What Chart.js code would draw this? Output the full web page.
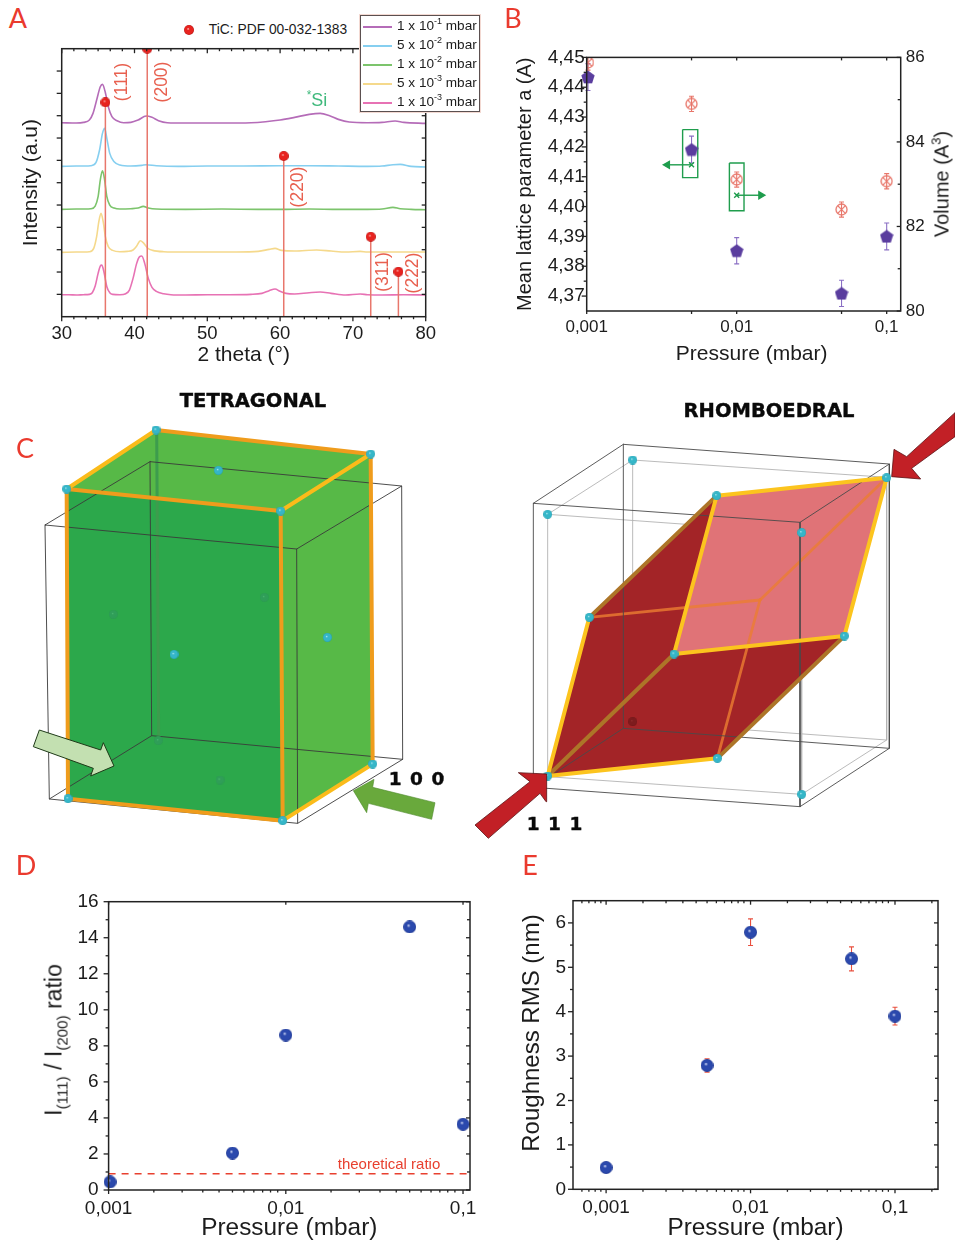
<!DOCTYPE html>
<html>
<head>
<meta charset="utf-8">
<title>TiC figure</title>
<script src="https://cdn.jsdelivr.net/npm/chart.js@4/dist/chart.umd.min.js"></script>
<style>
  html, body { margin: 0; padding: 0; background: #fff; }
  #page { position: relative; width: 955px; height: 1246px; overflow: hidden; font-family: "Liberation Sans", Arial, sans-serif; color: #1c1c1c; }
  #page canvas { position: absolute; }
  .txt { position: absolute; white-space: nowrap; transform-origin: center; }
  .letter { font-family: Lato, sans-serif; color: #ea3a2e; font-size: 27px; }
  .head { font-family: "DejaVu Sans", sans-serif; font-weight: bold; color: #0a0a0a; -webkit-text-stroke: 0.4px #0a0a0a; }
  .hkl { color: #e8604f; }
  sup, sub { font-size: 66%; line-height: 0; }
  #legendA { position: absolute; left: 360px; top: 15px; width: 118px; height: 95px; background: #fff; border: 1px solid #5b5050; box-shadow: 0 0 0 1px #f3d9d2; }
  #legendA div { position: absolute; left: 36px; font-size: 13.6px; white-space: nowrap; }
  #legendA i { position: absolute; left: 2px; width: 29px; height: 2px; }
</style>
</head>
<body>
<div id="page"></div>
<script>
// ---- panel A : XRD traces, [2 theta, intensity a.u.] ----
const trace1e3 = [[30,66],[31,66],[32,65],[33,66],[33.8,67],[34.2,72],[34.6,92],[35,130],[35.3,152],[35.5,155],[35.8,135],[36.2,90],[36.6,72],[37,67],[38,66],[38.8,69],[39.3,80],[39.8,115],[40.3,160],[40.7,180],[41,182],[41.4,160],[41.9,115],[42.4,88],[43,76],[44,69],[45,66],[47,65],[50,66],[53,66],[56,67],[57.5,70],[58.5,78],[59.3,83],[60,76],[60.8,70],[62,68],[64,72],[65.5,74],[67,70],[69,65],[71,68],[72,66],[74,65],[77,66],[80,65]];
const trace5e3 = [[30,193],[32,194],[33.8,195],[34.4,205],[34.8,240],[35.1,285],[35.4,310],[35.7,285],[36,240],[36.4,210],[37,199],[38,195],[39,196],[39.8,200],[40.3,212],[40.8,228],[41.2,222],[41.8,206],[42.5,199],[44,195],[47,194],[50,194],[54,194],[57,196],[58.5,202],[59.3,205],[60.2,199],[62,197],[65,200],[67,197],[69,194],[71,196],[72,194],[75,194],[80,194]];
const trace1e2 = [[30,322],[32,323],[34,324],[34.6,332],[35,360],[35.3,410],[35.6,438],[35.9,410],[36.2,360],[36.6,335],[37.2,326],[38,323],[39.5,324],[40.5,326],[41.2,331],[41.9,326],[43,323],[47,322],[52,323],[57,322],[60,322],[64,323],[68,322],[72,322],[74,323],[75.5,328],[76.5,324],[78,322],[80,321]];
const trace5e2 = [[30,451],[32,452],[34,453],[34.7,462],[35.2,500],[35.6,550],[35.9,565],[36.2,535],[36.6,490],[37.2,465],[38,455],[39.5,452],[41,454],[41.6,456],[43,453],[46,451],[50,452],[55,452],[60,453],[64,453],[68,452],[72,451],[74,452],[75.5,456],[76.5,457],[78,451],[80,449]];
const trace1e1 = [[30,582],[32,581],[33,583],[33.8,590],[34.3,610],[34.8,650],[35.3,690],[35.6,697],[36,672],[36.4,630],[36.9,600],[37.6,588],[38.5,582],[39.5,583],[40.5,590],[41.6,602],[42.4,598],[43.3,588],[44.5,582],[47,581],[52,581],[56,582],[58,585],[60,590],[62,598],[64,607],[65.5,610],[66.8,603],[68,592],[69.5,584],[72,582],[74,583],[75.8,587],[77,583],[80,580]];
const traceColors = ['#b56cb8','#86cff0','#7cc46c','#f5d98c','#e772b4'];
const pressureLabels = ['1 x 10<sup>-1</sup> mbar','5 x 10<sup>-2</sup> mbar','1 x 10<sup>-2</sup> mbar','5 x 10<sup>-3</sup> mbar','1 x 10<sup>-3</sup> mbar'];
const ticThetas = [36, 41.75, 60.5, 72.45, 76.25];
const ticHeights = [643, 804, 482, 240, 135];
const ticNames = ['(111)','(200)','(220)','(311)','(222)'];

// ---- panels B, D, E share the pressures ----
const pressures = [0.00102, 0.005, 0.01, 0.05, 0.1];
const latticeA = [4.4434, 4.4191, 4.3852, 4.3709, 4.39];
const latticeErr = [0.0045, 0.0045, 0.0044, 0.0044, 0.0045];
const volume = [85.88, 84.9, 83.11, 82.4, 83.07];
const volumeErr = [0.18, 0.18, 0.18, 0.18, 0.18];
const ratioPressures = [0.00102, 0.005, 0.01, 0.05, 0.1];
const ratioValues = [0.45, 2.05, 8.6, 14.6, 3.65];
const theoreticalRatio = 0.9;
const roughPressures = [0.001, 0.005, 0.01, 0.05, 0.1];
const roughness = [0.49, 2.79, 5.79, 5.19, 3.9];
const roughErr = [0.1, 0.15, 0.3, 0.27, 0.2];

// tick positions
const thetaMajor = [30,40,50,60,70,80];
const thetaMinor = [31.67,33.33,35,36.67,38.33,41.67,43.33,45,46.67,48.33,51.67,53.33,55,56.67,58.33,61.67,63.33,65,66.67,68.33,71.67,73.33,75,76.67,78.33];
const intensityMajor = [67,201,335,469,603,737];
const intensityMinor = [134,268,402,536,670];
const pressureMajor = [0.001, 0.01, 0.1];
const pressureB = [0.001, 0.005, 0.01, 0.05, 0.1];
const pressureMinor = [0.00068,0.00076,0.00084,0.00092,0.0018,0.0026,0.0034,0.0042,0.005,0.0058,0.0066,0.0074,0.0082,0.009,0.018,0.026,0.034,0.042,0.05,0.058,0.066,0.074,0.082,0.09,0.18];
const latticeTicks = [4.37,4.38,4.39,4.40,4.41,4.42,4.43,4.44,4.45];
const latticeMinor = [4.375,4.385,4.395,4.405,4.415,4.425,4.435,4.445];
const volumeTicks = [80,82,84,86];
const volumeMinor = [81,83,85];
const ratioTicks = [0,2,4,6,8,10,12,14,16];
const ratioMinor = [1,3,5,7,9,11,13,15];
const roughTicks = [0,1,2,3,4,5,6];
const roughMinor = [0.5,1.5,2.5,3.5,4.5,5.5];

// ---- panel C, axes are hidden and run 3 units per page pixel ----
const tetraFront = [[200,327],[842,393],[848,1322],[204,1256]];
const tetraRight = [[842,393],[1112,222],[1118,1152],[848,1322]];
const tetraTop = [[200,327],[468,150],[1112,222],[842,393]];
const tetraBoxFront = [[135,435],[890,507],[893,1330],[148,1257]];
const tetraBoxBack = [[450,245],[1205,318],[1208,1138],[455,1067]];
const tetraGold = [[[200,327],[468,150]],[[842,393],[1112,222]],[[848,1322],[1118,1152]]];
const tetraOrange = [[[468,150],[1112,222]],[[200,327],[842,393]],[[200,327],[204,1256]],[[842,393],[848,1322]],[[1112,222],[1118,1152]],[[204,1256],[848,1322]]];
const tetraCyan = [[200,327],[468,150],[1112,222],[842,393],[204,1256],[848,1322],[1118,1152],[655,271],[522,823],[982,772]];
const tetraGreen = [[340,703],[793,652],[660,1200],[475,1082]];
const paleArrow = [[118,1050],[302,1110],[310,1088],[342,1158],[272,1188],[280,1165],[100,1100]];
const solidArrow = [[1060,1232],[1122,1198],[1118,1222],[1305,1268],[1295,1318],[1105,1270],[1100,1298]];

const rhombOuterFront = [[190,370],[990,427],[990,1280],[190,1222]];
const rhombOuterBack = [[460,193],[1258,252],[1258,1105],[460,1045]];
const rhombInnerFront = [[233,403],[995,458],[995,1243],[233,1190]];
const rhombInnerBack = [[488,240],[1250,292],[1250,1080],[488,1025]];
const rhombHull = [[233,1188],[358,712],[740,347],[1250,293],[1123,768],[742,1135]];
const rhombPink = [[740,347],[1250,293],[1123,768],[612,822]];
const rhombGold = [[[233,1188],[358,712]],[[740,347],[1250,293]],[[1250,293],[1123,768]],[[740,347],[612,822]],[[612,822],[1123,768]],[[233,1188],[742,1135]]];
const rhombBrown = [[[358,712],[740,347]],[[612,822],[233,1188]],[[1123,768],[742,1135]]];
const rhombHidden = [[[358,712],[870,660]],[[870,660],[1250,293]],[[870,660],[742,1135]]];
const rhombCyan = [[233,1188],[1250,293],[740,347],[612,822],[1123,768],[358,712],[742,1135],[488,240],[233,403],[995,458],[995,1243]];
const rhombDark = [[488,1025]];
const redArrowTop = [[1455,98],[1310,230],[1272,208],[1265,290],[1352,297],[1325,265],[1455,170]];
const redArrowBottom = [[230,1182],[145,1178],[180,1205],[15,1335],[55,1375],[210,1240],[228,1265]];

const page = document.getElementById('page');
const INK = '#1c1c1c';
const SANS = '"Liberation Sans", Arial, sans-serif';

function addCanvas(l, t, w, h) {
  const c = document.createElement('canvas');
  c.width = w; c.height = h;
  c.style.left = l + 'px'; c.style.top = t + 'px';
  c.style.width = w + 'px'; c.style.height = h + 'px';
  page.appendChild(c);
  return c;
}
function addText(html, x, y, cls, size, rot) {
  const d = document.createElement('div');
  d.className = 'txt ' + (cls || '');
  d.innerHTML = html;
  d.style.left = x + 'px'; d.style.top = y + 'px';
  if (size) d.style.fontSize = size + 'px';
  d.style.transform = 'translate(-50%,-50%)' + (rot ? ' rotate(' + rot + 'deg)' : '');
  page.appendChild(d);
  return d;
}

// shiny marker, used as pointStyle
function ball(d, base, dark, shine) {
  const c = document.createElement('canvas');
  c.width = c.height = d;
  const g = c.getContext('2d');
  const r = d / 2;
  const grad = g.createRadialGradient(r * 0.8, r * 0.75, 0, r, r, r);
  grad.addColorStop(0, shine || '#fff');
  grad.addColorStop(0.28, base);
  grad.addColorStop(0.8, base);
  grad.addColorStop(1, dark);
  g.fillStyle = grad;
  g.beginPath(); g.arc(r, r, r, 0, Math.PI * 2); g.fill();
  return c;
}
function pentagon(d, col) {
  const c = document.createElement('canvas');
  c.width = c.height = d;
  const g = c.getContext('2d');
  g.fillStyle = col;
  g.beginPath();
  for (let i = 0; i < 5; i++) {
    const a = -Math.PI / 2 + i * 2 * Math.PI / 5;
    g.lineTo(d / 2 + Math.cos(a) * d / 2, d / 2 + 0.5 + Math.sin(a) * d / 2);
  }
  g.closePath(); g.fill();
  return c;
}
function crossedCircle(d, col) {
  const c = document.createElement('canvas');
  c.width = c.height = d;
  const g = c.getContext('2d');
  const r = d / 2 - 1, m = d / 2, k = r * 0.7;
  g.strokeStyle = col; g.lineWidth = 1.3;
  g.beginPath(); g.arc(m, m, r, 0, Math.PI * 2); g.stroke();
  g.beginPath();
  g.moveTo(m - k, m - k); g.lineTo(m + k, m + k);
  g.moveTo(m + k, m - k); g.lineTo(m - k, m + k);
  g.stroke();
  return c;
}

// frame + short ticks on all four sides
const frameTicks = {
  id: 'frameTicks',
  afterDraw(chart, args, opts) {
    if (!opts.sides) return;
    const a = chart.chartArea, g = chart.ctx;
    g.save();
    g.strokeStyle = opts.color || '#222';
    g.lineWidth = opts.lineWidth || 1.5;
    g.strokeRect(a.left, a.top, a.right - a.left, a.bottom - a.top);
    g.lineWidth = 1.3;
    opts.sides.forEach(s => {
      const scale = chart.scales[s.scale];
      const mark = (v, len) => {
        const p = scale.getPixelForValue(v);
        g.beginPath();
        if (s.at === 'bottom') { g.moveTo(p, a.bottom); g.lineTo(p, a.bottom + (s.dir === 'out' ? len : -len)); }
        if (s.at === 'top') { g.moveTo(p, a.top); g.lineTo(p, a.top + (s.dir === 'out' ? -len : len)); }
        if (s.at === 'left') { g.moveTo(a.left, p); g.lineTo(a.left + (s.dir === 'out' ? -len : len), p); }
        if (s.at === 'right') { g.moveTo(a.right, p); g.lineTo(a.right + (s.dir === 'out' ? len : -len), p); }
        g.stroke();
      };
      (s.major || []).forEach(v => mark(v, s.maj));
      (s.minor || []).forEach(v => mark(v, s.min));
    });
    g.restore();
  }
};
// whiskers, drawn under the markers
const errorBars = {
  id: 'errorBars',
  beforeDatasetsDraw(chart) {
    const a = chart.chartArea, g = chart.ctx;
    g.save();
    g.beginPath(); g.rect(a.left - 6, a.top, a.right - a.left + 12, a.bottom - a.top); g.clip();
    chart.data.datasets.forEach(ds => {
      if (!ds.errors) return;
      const sx = chart.scales.x, sy = chart.scales[ds.yAxisID || 'y'];
      g.strokeStyle = ds.errorColor; g.lineWidth = 1.1;
      ds.data.forEach((p, i) => {
        const x = sx.getPixelForValue(p.x);
        const lo = sy.getPixelForValue(p.y - ds.errors[i]);
        const hi = sy.getPixelForValue(p.y + ds.errors[i]);
        g.beginPath();
        g.moveTo(x, lo); g.lineTo(x, hi);
        g.moveTo(x - 2.5, lo); g.lineTo(x + 2.5, lo);
        g.moveTo(x - 2.5, hi); g.lineTo(x + 2.5, hi);
        g.stroke();
      });
    });
    g.restore();
  }
};

const pts = (xs, ys) => xs.map((x, i) => ({ x, y: ys[i] }));
const pairs = arr => arr.map(([x, y]) => ({ x, y }));
const comma = v => String(v).replace('.', ',');
const setTicks = vals => s => { s.ticks = vals.map(value => ({ value })); };
// tick labels must not push the plot area around
const noScalePadding = s => { s.paddingTop = s.paddingBottom = s.paddingLeft = s.paddingRight = 0; };

function xAxis(opt) {
  return {
    type: opt.type || 'linear', min: opt.min, max: opt.max, position: 'bottom',
    grid: { display: false, drawTicks: false }, border: { display: false },
    afterBuildTicks: setTicks(opt.ticks),
    afterFit(s) { s.height = opt.height; noScalePadding(s); },
    ticks: { autoSkip: false, maxRotation: 0, padding: opt.pad, color: INK, font: { family: SANS, size: opt.size }, callback: v => comma(v) },
    title: opt.title ? { display: true, text: opt.title, color: INK, font: { family: SANS, size: opt.titleSize }, padding: { top: 0, bottom: opt.titlePad } } : { display: false }
  };
}
function yAxis(opt) {
  return {
    type: 'linear', min: opt.min, max: opt.max, position: opt.position || 'left',
    grid: { display: false, drawTicks: false }, border: { display: false },
    afterBuildTicks: setTicks(opt.ticks),
    afterFit(s) { s.width = opt.width; noScalePadding(s); },
    ticks: { display: !opt.noLabels, autoSkip: false, padding: opt.pad, color: INK, font: { family: SANS, size: opt.size }, callback: v => comma(opt.digits ? v.toFixed(opt.digits) : v) },
    title: opt.title ? { display: true, text: opt.title, color: INK, font: { family: SANS, size: opt.titleSize }, padding: { top: opt.titlePad, bottom: 0 } } : { display: false }
  };
}
function baseOptions(padding, scales, sides) {
  return {
    responsive: false, animation: false, events: [],
    layout: { autoPadding: false, padding },
    scales,
    plugins: { legend: { display: false }, tooltip: { enabled: false }, frameTicks: { sides: sides || null } }
  };
}

// ---------- A ----------
const redBall = ball(10, '#e8231f', '#b31412', '#ffd2cc');
const datasetsA = [];
ticThetas.forEach((t, i) => {
  datasetsA.push({
    data: [{ x: t, y: 0 }, { x: t, y: ticHeights[i] }], showLine: true,
    borderColor: '#e8776c', borderWidth: 1.5, pointStyle: redBall, pointRadius: [0, 5]
  });
});
[trace1e1, trace5e2, trace1e2, trace5e3, trace1e3].forEach((tr, i) => {
  datasetsA.push({ data: pairs(tr), showLine: true, borderColor: traceColors[i], borderWidth: 1.6, pointRadius: 0, cubicInterpolationMode: 'monotone' });
});
new Chart(addCanvas(0, 40, 440, 330), {
  type: 'scatter',
  data: { datasets: datasetsA },
  options: baseOptions({ left: 0, top: 8.7, right: 14.3, bottom: 0 }, {
    x: xAxis({ min: 30, max: 80, ticks: thetaMajor, height: 53.3, pad: 6, size: 18.5, title: '2 theta (°)', titleSize: 21, titlePad: 2 }),
    y: yAxis({ min: 0, max: 804, ticks: intensityMajor, width: 61.7, noLabels: true, title: 'Intensity (a.u)', titleSize: 21, titlePad: 19 })
  }, [
    { scale: 'x', at: 'bottom', dir: 'out', major: thetaMajor, minor: thetaMinor, maj: 4.5, min: 2.5 },
    { scale: 'x', at: 'top', dir: 'in', major: thetaMajor, minor: thetaMinor, maj: 4.5, min: 2.5 },
    { scale: 'y', at: 'left', dir: 'out', major: intensityMajor, minor: intensityMinor, maj: 5, min: 5 },
    { scale: 'y', at: 'right', dir: 'in', major: intensityMajor, minor: intensityMinor, maj: 4, min: 4 }
  ]),
  plugins: [frameTicks]
});
const hklSpots = [[121, 82], [161, 82], [297, 187], [382, 272], [412, 273]];
ticNames.forEach((n, i) => addText(n, hklSpots[i][0], hklSpots[i][1], 'hkl', 17.5, -90));
addText('<sup>*</sup>Si', 317, 100, '', 18).style.color = '#3fb97c';
addText('TiC: PDF 00-032-1383', 278, 29, '', 13.8);
const legendBall = ball(10, '#e8231f', '#b31412', '#ffd2cc');
legendBall.style.left = '184px'; legendBall.style.top = '25px';
page.appendChild(legendBall);
const legendA = document.createElement('div');
legendA.id = 'legendA';
pressureLabels.forEach((lab, i) => {
  const row = 5 + i * 19;
  legendA.innerHTML += '<i style="top:' + (row + 5) + 'px;background:' + traceColors[i] + '"></i><div style="top:' + (row - 3) + 'px">' + lab + '</div>';
});
page.appendChild(legendA);

// ---------- B ----------
const purple = '#5a3d9e';
const salmon = '#e8766a';
const boxGreen = '#1f9d4d';
const greenLine = (xs, ys, extra) => Object.assign({ data: pts(xs, ys), showLine: true, borderColor: boxGreen, borderWidth: 1.4, pointRadius: 0, clip: false }, extra || {});
new Chart(addCanvas(490, 40, 465, 330), {
  type: 'scatter',
  data: {
    datasets: [
      { data: pts(pressures, latticeA), yAxisID: 'y', pointStyle: pentagon(14, purple), pointRadius: 7, errors: latticeErr, errorColor: '#8a6fc4', clip: false },
      { data: pts(pressures, volume), yAxisID: 'y2', pointStyle: crossedCircle(13, salmon), pointRadius: 6, errors: volumeErr, errorColor: salmon },
      greenLine([0.00436, 0.0055, 0.0055, 0.00436, 0.00436], [4.4258, 4.4258, 4.4097, 4.4097, 4.4258]),
      greenLine([0.00894, 0.01119, 0.01119, 0.00894, 0.00894], [4.4146, 4.4146, 4.3986, 4.3986, 4.4146]),
      greenLine([0.005, 0.00345], [4.414, 4.414], { pointStyle: 'triangle', pointRotation: -90, pointRadius: [0, 4], backgroundColor: boxGreen, borderColor: boxGreen }),
      greenLine([0.01, 0.0145], [4.4038, 4.4038], { pointStyle: 'triangle', pointRotation: 90, pointRadius: [0, 4], backgroundColor: boxGreen, borderColor: boxGreen }),
      greenLine([0.005, 0.01], [4.414, 4.4038], { showLine: false, pointStyle: 'crossRot', pointRadius: 3.5, pointBorderColor: boxGreen, pointBorderWidth: 1.4 })
    ]
  },
  options: baseOptions({ left: 0, top: 17.4, right: 0, bottom: 0 }, {
    x: xAxis({ type: 'logarithmic', min: 0.001, max: 0.124, ticks: pressureMajor, height: 59, pad: 6, size: 17 }),
    y: yAxis({ min: 4.365, max: 4.45, ticks: latticeTicks, digits: 2, width: 96.7, pad: 2, size: 19, title: 'Mean lattice parameter a (A)', titleSize: 20, titlePad: 23 }),
    y2: yAxis({ min: 80, max: 86, ticks: volumeTicks, position: 'right', width: 54.3, pad: 5, size: 17 })
  }, [
    { scale: 'x', at: 'bottom', dir: 'out', major: pressureB, maj: 3 },
    { scale: 'x', at: 'top', dir: 'in', major: pressureB, maj: 3 },
    { scale: 'y', at: 'left', dir: 'out', major: latticeTicks, minor: latticeMinor, maj: 5, min: 3 },
    { scale: 'y2', at: 'right', dir: 'in', major: volumeTicks, minor: volumeMinor, maj: 4, min: 3 }
  ]),
  plugins: [frameTicks, errorBars]
});
addText('Pressure (mbar)', 751.7, 353, '', 21);
addText('Volume (A<sup>3</sup>)', 942, 184, '', 20, -90);

// ---------- C, crystal cells ----------
const poly = (p, fill, stroke, w) => ({
  data: pairs(p.concat([p[0]])), showLine: true, fill: 'shape', backgroundColor: fill,
  borderColor: stroke || 'rgba(0,0,0,0)', borderWidth: w || 0, pointRadius: 0, clip: false
});
const seg = (p, col, w) => ({ data: pairs(p), showLine: true, borderColor: col, borderWidth: w, borderCapStyle: 'round', pointRadius: 0, clip: false });
const dots = (p, style) => ({ data: pairs(p), pointStyle: style, pointRadius: 4, clip: false });
function wireBox(front, back, col, w) {
  const out = [seg(front.concat([front[0]]), col, w), seg(back.concat([back[0]]), col, w)];
  front.forEach((f, i) => out.push(seg([f, back[i]], col, w)));
  return out;
}
function crystalChart(l, t, w, h, xMax, yMax, paintOrder) {
  // chart.js paints the first dataset last
  const cfgScales = {
    x: { type: 'linear', display: false, min: 0, max: xMax },
    y: { type: 'linear', display: false, min: 0, max: yMax, reverse: true }
  };
  return new Chart(addCanvas(l, t, w, h), {
    type: 'scatter',
    data: { datasets: paintOrder.slice().reverse() },
    options: baseOptions(0, cfgScales),
    plugins: []
  });
}
const cyanBall = ball(9, '#35b6c8', '#27a0b2', '#bff1f7');
const greenDot = ball(9, '#2f9e58', '#2b9a50', '#4db873');
const darkRed = ball(9, '#7d1c1e', '#701718', '#97302f');

const gradCanvas = document.createElement('canvas').getContext('2d');
const paleFill = gradCanvas.createLinearGradient(33, 730, 113, 770);
paleFill.addColorStop(0, '#c3e0b1');
paleFill.addColorStop(0.5, '#a9d394');
paleFill.addColorStop(0.7, '#5ea34a');
paleFill.addColorStop(1, '#4f9a40');

crystalChart(0, 380, 470, 470, 1410, 1410, [
  poly(tetraTop, '#57b947'),
  poly(tetraRight, '#57b947'),
  poly(tetraFront, '#2ca84b'),
  seg([[470, 150], [476, 1075]], '#3d9c4d', 3),
  ...wireBox(tetraBoxFront, tetraBoxBack, '#3a3a3a', 0.9),
  ...tetraOrange.map(e => seg(e, '#ef9c1c', 4)),
  ...tetraGold.map(e => seg(e, '#fbbb1a', 4)),
  dots(tetraGreen, greenDot),
  dots(tetraCyan, cyanBall),
  poly(paleArrow, paleFill, '#1e3a18', 1),
  poly(solidArrow, '#69a93c', '#4e8a2c', 0.6)
]);
addText('TETRAGONAL', 253, 400, 'head', 19.5);
addText('1 0 0', 417, 778, 'head', 18.5).style.letterSpacing = '1px';

crystalChart(470, 380, 485, 470, 1455, 1410, [
  ...wireBox(rhombInnerFront, rhombInnerBack, '#b3b3b3', 0.9),
  poly(rhombHull, '#a32427'),
  poly(rhombPink, '#e07377'),
  ...rhombHidden.map(e => seg(e, 'rgba(235,125,50,0.8)', 2.8)),
  ...wireBox(rhombOuterFront, rhombOuterBack, '#4a4a4a', 0.9),
  ...rhombBrown.map(e => seg(e, '#ad7528', 4)),
  ...rhombGold.map(e => seg(e, '#fcc41e', 4)),
  dots(rhombDark, darkRed),
  dots(rhombCyan, cyanBall),
  poly(redArrowTop, '#c22026', '#5c1214', 0.8),
  poly(redArrowBottom, '#c22026', '#5c1214', 0.8)
]);
addText('RHOMBOEDRAL', 769, 410, 'head', 19.5);
addText('1 1 1', 555, 823, 'head', 18.5).style.letterSpacing = '1px';

// ---------- D ----------
const blueBall = ball(13, '#2b49ad', '#1d3590', '#e6ecff');
new Chart(addCanvas(0, 890, 490, 356), {
  type: 'scatter',
  data: {
    datasets: [
      { data: pts(ratioPressures, ratioValues), pointStyle: blueBall, pointRadius: 6, clip: false },
      { data: pts([0.001, 0.1095], [theoreticalRatio, theoreticalRatio]), showLine: true, borderColor: '#e8402f', borderWidth: 1.6, borderDash: [7, 6], pointRadius: 0 }
    ]
  },
  options: baseOptions({ left: 0, top: 11.7, right: 20, bottom: 0 }, {
    x: xAxis({ type: 'logarithmic', min: 0.001, max: 0.1095, ticks: pressureMajor, height: 56, pad: 7, size: 19, title: 'Pressure (mbar)', titleSize: 24.4, titlePad: 3 }),
    y: yAxis({ min: 0, max: 16, ticks: ratioTicks, width: 108.6, pad: 10, size: 19 })
  }, [
    { scale: 'x', at: 'bottom', dir: 'out', major: pressureMajor, minor: pressureMinor.filter(v => v >= 0.001 && v < 0.1095), maj: 4, min: 2.5 },
    { scale: 'x', at: 'top', dir: 'in', major: pressureMajor, maj: 3 },
    { scale: 'y', at: 'left', dir: 'out', major: ratioTicks, minor: ratioMinor, maj: 5, min: 3 },
    { scale: 'y', at: 'right', dir: 'in', major: ratioTicks, minor: ratioMinor, maj: 4, min: 3 }
  ]),
  plugins: [frameTicks]
});
addText('I<sub>(111)</sub> / I<sub>(200)</sub> ratio', 54, 1040, '', 23, -90);
addText('theoretical ratio', 389, 1163, '', 15).style.color = '#e8402f';

// ---------- E ----------
new Chart(addCanvas(500, 890, 455, 356), {
  type: 'scatter',
  data: { datasets: [{ data: pts(roughPressures, roughness), pointStyle: blueBall, pointRadius: 6, errors: roughErr, errorColor: '#e8503f' }] },
  options: baseOptions({ left: 0, top: 10.7, right: 17, bottom: 0 }, {
    x: xAxis({ type: 'logarithmic', min: 0.00059, max: 0.1985, ticks: pressureMajor, height: 56.7, pad: 7, size: 19, title: 'Pressure (mbar)', titleSize: 24.4, titlePad: 3 }),
    y: yAxis({ min: 0, max: 6.5, ticks: roughTicks, width: 73, pad: 7, size: 19 })
  }, [
    { scale: 'x', at: 'bottom', dir: 'out', major: pressureMajor, minor: pressureMinor, maj: 4, min: 2.5 },
    { scale: 'x', at: 'top', dir: 'in', major: pressureMajor, minor: pressureMinor, maj: 4, min: 2.5 },
    { scale: 'y', at: 'left', dir: 'out', major: roughTicks, minor: roughMinor, maj: 5, min: 3 },
    { scale: 'y', at: 'right', dir: 'in', major: roughTicks, minor: roughMinor, maj: 4, min: 3 }
  ]),
  plugins: [frameTicks, errorBars]
});
addText('Roughness RMS (nm)', 531, 1033, '', 24, -90);

// panel letters
addText('A', 18, 17, 'letter');
addText('B', 513, 17, 'letter');
addText('C', 25, 447, 'letter');
addText('D', 26, 864, 'letter');
addText('E', 530, 864, 'letter');
</script>
</body>
</html>
